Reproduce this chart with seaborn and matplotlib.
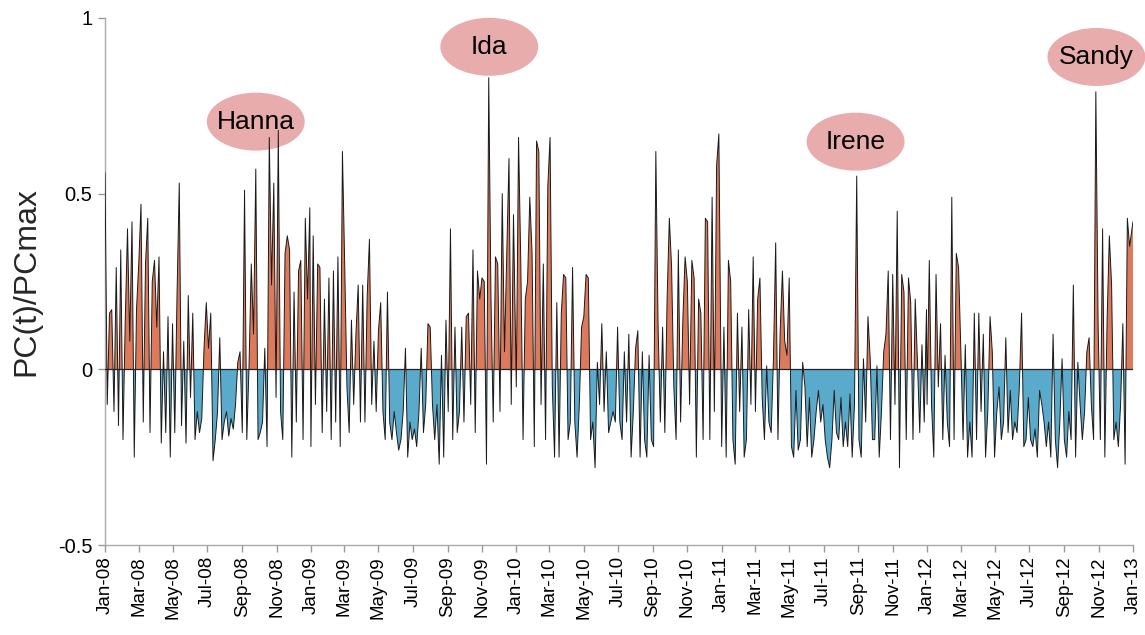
import matplotlib
matplotlib.use("Agg")
import matplotlib.pyplot as plt
import matplotlib.dates as mdates
from matplotlib.patches import Ellipse
import numpy as np
import pandas as pd
import seaborn as sns

# Normalised principal component PC(t)/PCmax, one value every 4 days per year
pc_2008 = [0.56, -0.10, 0.16, 0.17, -0.12, 0.29, -0.16, 0.34, -0.20, 0.14,
           0.40, 0.08, 0.42, -0.25, 0.17, 0.30, 0.47, -0.15, 0.30, 0.43,
           -0.18, 0.25, 0.31, 0.12, 0.32, -0.21, 0.05, -0.18, 0.15, -0.25,
           0.13, -0.18, 0.21, 0.53, -0.16, 0.08, -0.21,
           0.21, -0.08, 0.16, -0.20, -0.12, -0.18, -0.14, 0.06, 0.19, 0.06,
           0.16, -0.26, -0.20, -0.12, 0.09, -0.20, -0.15, -0.12, -0.19, -0.14,
           -0.17, -0.10, 0.02, 0.05, -0.18, 0.51, -0.20, 0.01, 0.30, 0.10,
           0.57, -0.20, -0.18, -0.15, 0.06, -0.22, 0.66, 0.24,
           0.53, -0.08, 0.68, -0.12, -0.20, 0.33, 0.38, 0.34, -0.25, 0.22,
           -0.15, 0.28, 0.31, -0.20, 0.43, 0.20, 0.46]

pc_2009 = [-0.22, 0.38, -0.10, 0.30, 0.29, -0.18, 0.20, -0.12, 0.26, -0.20,
           0.28, -0.15, 0.32, -0.22, 0.62, 0.30, -0.05, -0.18, 0.14, -0.10,
           0.10,
           0.24, -0.15, 0.24, -0.15, 0.21, 0.37, -0.10, 0.08, -0.12, 0.11,
           0.19, -0.12, -0.20, 0.22, -0.15, -0.20, -0.12, -0.18, -0.23, -0.20,
           -0.12, 0.06, -0.25, -0.15, -0.20, -0.17, -0.22, -0.12, 0.06, -0.18,
           -0.10, 0.13, 0.12, -0.10, -0.20, -0.10, -0.27, 0.04,
           -0.25, 0.14, -0.12, 0.40, -0.20, 0.12, -0.18, -0.12, 0.12, -0.15,
           0.15, 0.16, -0.10, 0.34, -0.18, 0.28, 0.20, 0.26, 0.25, -0.27,
           0.83, 0.20, -0.15, 0.32, 0.30, -0.12, 0.50, 0.05, 0.32, 0.60,
           -0.10, 0.44]

pc_2010 = [-0.05, 0.66, 0.30, -0.20, 0.20, 0.25,
           0.49, 0.33, -0.22, 0.65, 0.62, -0.10, 0.30, -0.20, 0.52, 0.66,
           -0.05, -0.25, 0.19, -0.25, 0.16, 0.27, 0.26, -0.20, -0.15, 0.29,
           -0.15, -0.25, -0.10, 0.12, 0.15, 0.27, 0.26, -0.20, -0.15, -0.28,
           0.02, -0.10, 0.13, -0.12, 0.05, -0.18, -0.15, -0.12, -0.15,
           0.12, -0.15, -0.20, 0.05, -0.15, 0.10, -0.25, -0.12, 0.06, 0.11,
           -0.25, 0.05, -0.20, -0.25, 0.04, -0.20, -0.22, 0.62, 0.12, -0.15,
           0.12, -0.18, 0.20, 0.43, 0.29, -0.05, -0.20, 0.34, -0.15, 0.14,
           0.32, 0.25, -0.10, 0.31, 0.26, -0.25, 0.20, 0.16,
           -0.20, 0.43, 0.42, -0.20, 0.49, -0.12, 0.58, 0.67]

pc_2011 = [-0.22, 0.12, -0.25, 0.31, 0.25, -0.20, -0.27, 0.16, -0.12, 0.12,
           -0.25, -0.20, 0.17, -0.10, 0.32, -0.12, 0.20, 0.26, -0.08, -0.20,
           0.01, -0.15, -0.18, 0.03, 0.36, -0.20, 0.11, 0.28, 0.08, 0.04,
           0.26, -0.22, -0.25, -0.06, -0.23, -0.20, 0.02, -0.05, -0.22, -0.08,
           -0.25, -0.20, -0.12, -0.06, -0.15, -0.10, -0.20, -0.25, -0.28, -0.20,
           -0.06, -0.18, -0.20, -0.08, -0.22, -0.15, -0.22, -0.07, -0.25, -0.10,
           0.55, -0.20, -0.25, 0.03, -0.15, 0.15, 0.03, -0.20,
           -0.20, 0.01, -0.25, -0.12, 0.05, 0.10, 0.28, -0.20, 0.27, -0.10,
           0.45, -0.28, 0.27, 0.22, -0.20, 0.26, 0.19, -0.20, 0.20, 0.02,
           -0.18, 0.07, -0.15, 0.17]

pc_2012 = [-0.10, 0.31, -0.10, -0.25, 0.27, -0.05, 0.13, -0.20, 0.04, -0.15,
           -0.22, 0.49, -0.20, 0.33, 0.29,
           0.06, -0.20, 0.07, -0.25, -0.15, -0.25, 0.16, -0.20, 0.16, -0.12,
           0.10, -0.25, -0.12, 0.15, 0.05, -0.25, -0.12, -0.05, -0.20, -0.15,
           0.09, -0.18, -0.06, -0.20, -0.15, -0.18, -0.05, 0.16, -0.22, -0.20,
           -0.08, -0.20, -0.22, -0.17, -0.25, -0.06, -0.10, -0.15,
           -0.22, -0.15, -0.25, 0.10, -0.20, -0.28, -0.15, 0.03, -0.20, -0.25,
           -0.12, -0.20, 0.24, -0.25, 0.02, -0.10, -0.20, -0.12, 0.05, 0.09,
           -0.10, -0.20, 0.79, 0.13, -0.20, 0.40, -0.25, 0.14, 0.38, 0.24,
           -0.20, -0.15, -0.22, -0.10, 0.13, -0.27, 0.43, 0.35]

pc_2013 = [0.42]

# Named storms and where their labels sit (centre date, centre level)
storm_names = ["Hanna", "Ida", "Irene", "Sandy"]
storm_label_dates = ["2008-09-25", "2009-11-14", "2011-08-27", "2012-10-28"]
storm_label_levels = [0.705, 0.918, 0.648, 0.889]

y_ticks = [-0.5, 0, 0.5, 1]
y_tick_labels = ["-0.5", "0", "0.5", "1"]


def year_frame(year, values):
    dates = pd.date_range(f"{year}-01-01", periods=len(values), freq="4D")
    return pd.DataFrame({"date": dates, "pc": values})


df = pd.concat(
    [year_frame(y, v) for y, v in [(2008, pc_2008), (2009, pc_2009),
                                   (2010, pc_2010), (2011, pc_2011),
                                   (2012, pc_2012), (2013, pc_2013)]],
    ignore_index=True,
)

sns.set_theme(style="ticks")
plt.rcParams["font.family"] = ["Liberation Sans", "DejaVu Sans"]

fig = plt.figure(figsize=(11.45, 6.35), dpi=100)
ax = fig.add_axes([0.0917, 0.1417, 0.8978, 0.8300])

pos_color = "#dd7a5c"
neg_color = "#5aaacb"
pink = "#e8acac"

x = mdates.date2num(df["date"])
y = df["pc"].to_numpy()

# storm label bubbles behind the series
for name, d, lvl in zip(storm_names, storm_label_dates, storm_label_levels):
    cx = mdates.date2num(pd.Timestamp(d))
    ax.add_patch(Ellipse((cx, lvl), width=174, height=0.165,
                         facecolor=pink, edgecolor="none", zorder=1,
                         clip_on=False))
    ax.text(cx, lvl, name, ha="center", va="center", fontsize=19,
            color="black", zorder=6, clip_on=False)

ax.fill_between(x, y, 0, where=y >= 0, interpolate=True,
                color=pos_color, linewidth=0, zorder=2)
ax.fill_between(x, y, 0, where=y <= 0, interpolate=True,
                color=neg_color, linewidth=0, zorder=2)
sns.lineplot(data=df, x="date", y="pc", color="#1a1a1a", linewidth=0.7,
             ax=ax, zorder=3)
ax.axhline(0, color="#222222", linewidth=0.9, zorder=4)

ax.set_xlim(pd.Timestamp("2008-01-01"), pd.Timestamp("2013-01-01"))
ax.set_ylim(-0.5, 1.0)
ax.set_yticks(y_ticks)
ax.set_yticklabels(y_tick_labels)

ax.xaxis.set_major_locator(mdates.MonthLocator(bymonth=[1, 3, 5, 7, 9, 11]))
ax.xaxis.set_major_formatter(mdates.DateFormatter("%b-%y"))
plt.setp(ax.get_xticklabels(), rotation=90, ha="center")

ax.set_xlabel("")
ax.set_ylabel("PC(t)/PCmax", fontsize=23, labelpad=12)
ax.tick_params(axis="x", labelsize=13.5, length=5, width=1, color="#999999",
               labelcolor="black", pad=3)
ax.tick_params(axis="y", labelsize=14.5, length=5, width=1, color="#999999",
               labelcolor="black", pad=4)

sns.despine(ax=ax, top=True, right=True)
for side in ["left", "bottom"]:
    ax.spines[side].set_color("#aaaaaa")
    ax.spines[side].set_linewidth(1.0)

fig.savefig("out.png", dpi=100)
